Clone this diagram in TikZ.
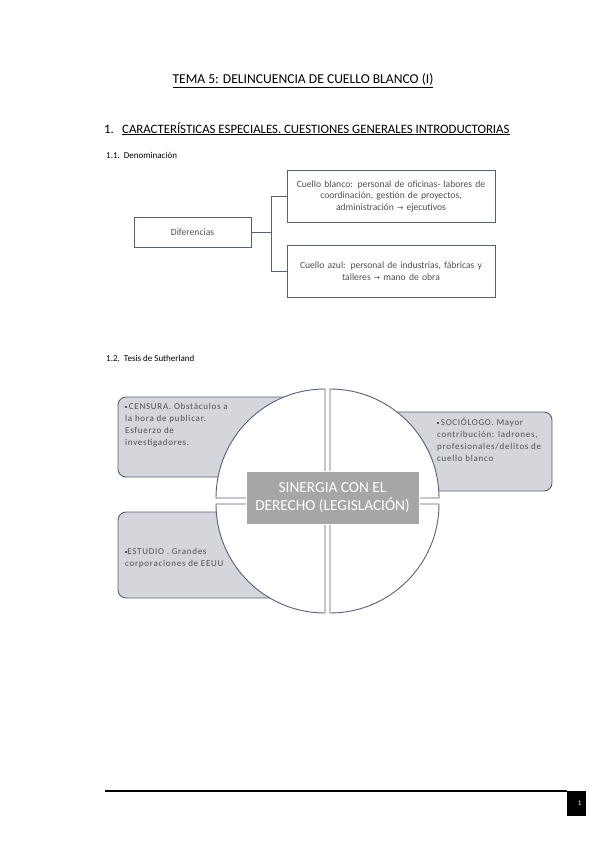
\documentclass[tikz,border=0pt]{standalone}
\usepackage{fontspec}
\setmainfont{Carlito}
\newfontfamily\symfont{DejaVu Sans}
\usetikzlibrary{positioning, calc}
\definecolor{slateline}{RGB}{84,98,120}
\definecolor{boxgray}{RGB}{213,214,219}
\definecolor{centergray}{RGB}{166,166,166}
\definecolor{textgray}{RGB}{80,80,80}
\newcommand\sqbullet{\raisebox{1.6pt}{\rule{2.2pt}{2.2pt}}}

\tikzset{
  heading/.style={anchor=base west, inner sep=0pt, font=\fontsize{12.8}{14}\selectfont},
  subhead/.style={anchor=base west, inner sep=0pt, font=\fontsize{9}{10}\selectfont},
  treebox/.style={draw=slateline, line width=0.9pt, fill=white, minimum width=206pt,
    minimum height=52pt, inner sep=1pt, align=center, text width=206pt,
    text=textgray, font=\fontsize{9.6}{11.5}\selectfont},
  sidebox/.style={draw=slateline, line width=0.9pt, fill=boxgray, rounded corners=8pt},
  quad/.style={draw=slateline, line width=0.9pt, fill=white},
  sidetext/.style={anchor=north west, inner sep=0pt, align=left, text=textgray,
    font=\fontsize{9}{12}\selectfont\addfontfeatures{LetterSpace=8}},
}

\begin{document}
\begin{tikzpicture}[x=1pt, y=-1pt]
  \useasboundingbox (0,0) rectangle (599,848);

  % titles
  \node[anchor=base, inner sep=0pt, font=\fontsize{13.6}{15}\selectfont] (title) at (303,84)
    {\underline{TEMA 5: DELINCUENCIA DE CUELLO BLANCO (I)}};
  \node[heading] (num1) at (104,133) {1.};
  \node[heading] (sec1) at (122,133)
    {\underline{CARACTERÍSTICAS ESPECIALES. CUESTIONES GENERALES INTRODUCTORIAS}};
  \node[subhead] (sec11) at (106,158) {1.1.\ \ Denominación};

  % hierarchy
  \node[draw=slateline, line width=0.9pt, minimum width=117pt, minimum height=30pt,
    text=textgray, font=\fontsize{9.6}{11}\selectfont] (dif) at (192.5,232) {Diferencias};
  \node[treebox] (blanco) at (391,196)
    {Cuello blanco: personal de oficinas- labores de\\coordinación, gestión de proyectos,\\administración {\symfont\fontsize{7.5}{9}\selectfont→} ejecutivos};
  \node[treebox] (azul) at (391,271)
    {Cuello azul: personal de industrias, fábricas y\\talleres {\symfont\fontsize{7.5}{9}\selectfont→} mano de obra};
  \coordinate (jn) at (271,232);
  \draw[slateline, line width=0.9pt] (dif.east) -- (jn) |- (blanco.west);
  \draw[slateline, line width=0.9pt] (jn) |- (azul.west);

  \node[subhead] (sec12) at (106,361) {1.2.\ \ Tesis de Sutherland};

  % Sutherland circle
  \draw[sidebox] (118,397) rectangle (300,477);
  \draw[sidebox] (118,512) rectangle (300,598);
  \draw[sidebox] (360,412) rectangle (552,491);
  \begin{scope}[shift={(327.5,501)}]
    \foreach \dx/\dy/\a in {2.5/3/0, -2.5/3/90, -2.5/-3/180, 2.5/-3/270}
      \filldraw[quad] (\dx,\dy) -- ++(\a:109) arc[start angle=\a, delta angle=90, radius=109] -- cycle;
  \end{scope}
  \node[sidetext] (censura) at (125,403)
    {\sqbullet\,CENSURA. Obstáculos a\\la hora de publicar.\\Esfuerzo de\\investigadores.};
  \node[sidetext] (estudio) at (125,548)
    {\sqbullet ESTUDIO . Grandes\\corporaciones de EEUU};
  \node[sidetext] (socio) at (437,418)
    {\sqbullet\,SOCIÓLOGO. Mayor\\contribución: ladrones,\\profesionales/delitos de\\cuello blanco};
  \node[draw=white, line width=0.6pt, fill=centergray, minimum width=173pt, minimum height=53pt,
    align=center, text=white, font=\fontsize{15.3}{18}\selectfont] (sinergia) at (332.5,497.5)
    {SINERGIA CON EL\\DERECHO (LEGISLACIÓN)};

  % footer
  \node[fill=black, minimum width=19pt, minimum height=25pt, inner sep=0pt, anchor=north west,
    text=white, font=\fontsize{7}{8}\selectfont] (page) at (567,791) {\hspace{6pt}1};
  \coordinate (lstart) at (105,791);
  \draw[line width=1.2pt] (lstart) -- (page.north west);
\end{tikzpicture}
\end{document}
